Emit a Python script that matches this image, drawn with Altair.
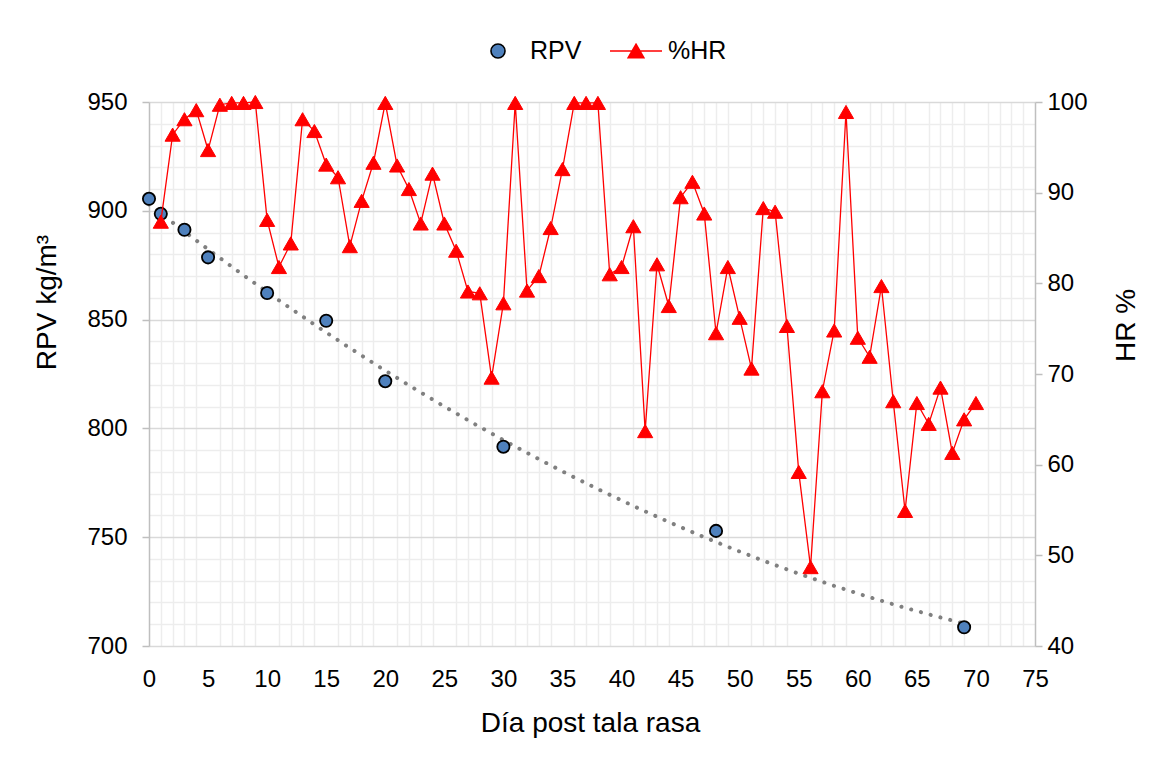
import altair as alt
import pandas as pd

FONT = "Liberation Sans"

series = ["RPV", "%HR"]

dia_rpv = [0, 1, 3, 5, 10, 15, 20, 30, 48, 69]
rpv = [905.5, 898.6, 891.3, 878.6, 862.2, 849.5, 821.7, 791.6, 752.9, 708.6]

dia_hr = [1, 2, 3, 4, 5, 6, 7, 8, 9, 10,
          11, 12, 13, 14, 15, 16, 17, 18, 19, 20,
          21, 22, 23, 24, 25, 26, 27, 28, 29, 30,
          31, 32, 33, 34, 35, 36, 37, 38, 39, 40,
          41, 42, 43, 44, 45, 46, 47, 48, 49, 50,
          51, 52, 53, 54, 55, 56, 57, 58, 59, 60,
          61, 62, 63, 64, 65, 66, 67, 68, 69, 70]
hr = [86.8, 96.4, 98.1, 99.1, 94.7, 99.7, 99.9, 99.9, 100.0, 87.0,
      81.8, 84.4, 98.1, 96.8, 93.1, 91.7, 84.1, 89.1, 93.3, 99.9,
      93.0, 90.4, 86.6, 92.1, 86.6, 83.6, 79.1, 78.9, 69.6, 77.8,
      99.9, 79.2, 80.8, 86.1, 92.6, 99.9, 99.9, 99.9, 81.0, 81.8,
      86.3, 63.7, 82.1, 77.5, 89.5, 91.2, 87.7, 74.5, 81.8, 76.2,
      70.6, 88.3, 87.9, 75.3, 59.2, 48.7, 68.1, 74.8, 98.9, 74.0,
      71.9, 79.7, 67.0, 54.9, 66.8, 64.5, 68.5, 61.3, 65.0, 66.8]

x_ticks = list(range(0, 76))
left_ticks = list(range(700, 951, 10))
right_ticks = [40, 50, 60, 70, 80, 90, 100]

df_rpv = pd.DataFrame({"dia": dia_rpv, "rpv": rpv})
df_hr = pd.DataFrame({"dia": dia_hr, "hr": hr})
df_leg = pd.DataFrame({"serie": series})

x_enc = alt.X(
    "dia:Q",
    scale=alt.Scale(domain=[0, 75], nice=False, zero=False),
    axis=alt.Axis(
        values=x_ticks,
        title="Día post tala rasa",
        labelExpr="datum.value % 5 === 0 ? datum.label : ''",
        grid=True,
        gridColor={"condition": {"test": "datum.value % 5 === 0", "value": "rgba(0,0,0,0)"},
                   "value": "#ededed"},
        gridWidth=1.5,
        domain=False,
        ticks=False,
        tickSize=0,
        labelBaseline="alphabetic",
        labelPadding=40,
        labelFlush=False,
        labelOverlap=False,
        labelFontSize=24,
        labelColor="#000000",
        titleFontSize=28,
        titleFontWeight="normal",
        titleColor="#000000",
        titleBaseline="alphabetic",
        titleAlign="center",
        titleX=441,
        titleY=85,
    ),
)

y_left = alt.Y(
    "rpv:Q",
    scale=alt.Scale(domain=[700, 950], nice=False, zero=False),
    axis=alt.Axis(
        values=left_ticks,
        title="RPV kg/m³",
        labelExpr="datum.value % 50 === 0 ? datum.label : ''",
        grid=True,
        gridColor={"condition": {"test": "datum.value % 50 === 0", "value": "#d9d9d9"},
                   "value": "#ededed"},
        gridWidth=1.5,
        domain=True,
        domainColor="#bfbfbf",
        domainWidth=1.5,
        ticks=True,
        tickSize=7,
        tickWidth=1.5,
        tickColor={"condition": {"test": "datum.value % 50 === 0", "value": "#bfbfbf"},
                   "value": "rgba(0,0,0,0)"},
        labelPadding=15,
        labelFontSize=24,
        labelColor="#000000",
        labelFlush=False,
        labelOverlap=False,
        titleFontSize=28,
        titleFontWeight="normal",
        titleColor="#000000",
        titleAngle=270,
        titleAlign="center",
        titleBaseline="alphabetic",
        titleX=-94,
        titleY=200,
    ),
)

y_right = alt.Y(
    "hr:Q",
    scale=alt.Scale(domain=[40, 100], nice=False, zero=False),
    axis=alt.Axis(
        orient="right",
        values=right_ticks,
        title="HR %",
        grid=False,
        domain=True,
        domainColor="#bfbfbf",
        domainWidth=1.5,
        ticks=True,
        tickSize=7,
        tickWidth=1.5,
        tickColor="#bfbfbf",
        labelPadding=5,
        labelFontSize=24,
        labelColor="#000000",
        labelFlush=False,
        labelOverlap=False,
        titleFontSize=28,
        titleFontWeight="normal",
        titleColor="#000000",
        titleAngle=270,
        titleAlign="center",
        titleBaseline="alphabetic",
        titleX=99,
        titleY=223,
    ),
)

circ_path = "M-0.27,0A0.27,0.27,0,1,0,0.27,0A0.27,0.27,0,1,0,-0.27,0Z"
hr_path = "M-1,0L1,0M0,-0.26L0.3,0.26L-0.3,0.26Z"

leg = alt.Legend(
    orient="none",
    legendX=322,
    legendY=-78,
    direction="horizontal",
    title=None,
    symbolSize=2704,
    symbolStrokeWidth=1.6,
    labelFontSize=25,
    labelFont=FONT,
    labelColor="#000000",
    labelOffset=5,
    columnPadding=24,
)

trend = (
    alt.Chart(df_rpv)
    .transform_regression("dia", "rpv", method="poly", order=2)
    .mark_line(color="#808080", strokeWidth=4, strokeDash=[0.1, 10], strokeCap="round")
    .encode(x=x_enc, y=y_left)
)

rpv_pts = (
    alt.Chart(df_rpv)
    .mark_point(shape="circle", filled=True, size=150, fill="#4f81bd",
                stroke="#000000", strokeWidth=1.8, opacity=1)
    .encode(x=x_enc, y=y_left)
)

legend_layer = (
    alt.Chart(df_leg)
    .mark_point(filled=True, size=0, strokeWidth=1.6, opacity=1)
    .encode(
        fill=alt.Fill("serie:N", scale=alt.Scale(domain=series, range=["#4f81bd", "#ff0000"]), legend=leg),
        stroke=alt.Stroke("serie:N", scale=alt.Scale(domain=series, range=["#000000", "#ff0000"]), legend=leg),
        shape=alt.Shape("serie:N", scale=alt.Scale(domain=series, range=[circ_path, hr_path]), legend=leg),
    )
)

hr_line = (
    alt.Chart(df_hr)
    .mark_line(color="#ff0000", strokeWidth=1.3)
    .encode(x=x_enc, y=y_right)
)

hr_pts = (
    alt.Chart(df_hr)
    .mark_point(shape="triangle-up", filled=True, size=230, fill="#ff0000",
                stroke="#ff0000", strokeWidth=1, opacity=1)
    .encode(x=x_enc, y=y_right)
)

left = alt.layer(trend, rpv_pts, legend_layer)
right = alt.layer(hr_line, hr_pts)

chart = (
    alt.layer(left, right)
    .resolve_scale(y="independent")
    .properties(
        width=886,
        height=544,
        autosize=alt.AutoSizeParams(type="none"),
        padding={"left": 141, "top": 94, "right": 123, "bottom": 105},
    )
    .configure(font=FONT)
    .configure_view(stroke=None)
)

chart.save("out.html", embed_options={"renderer": "svg", "actions": False})
